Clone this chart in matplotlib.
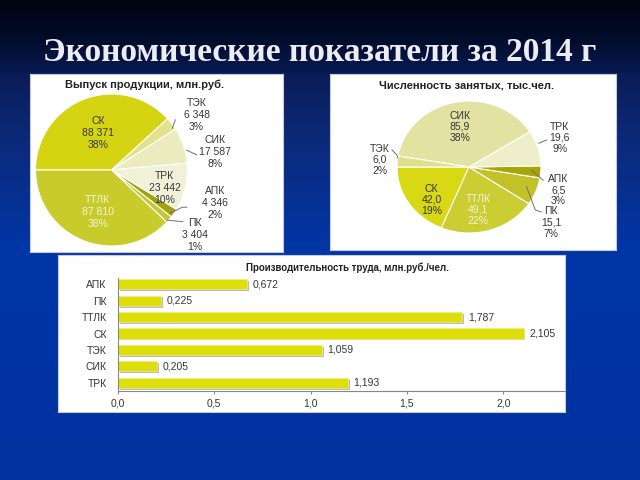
import numpy as np
import matplotlib
matplotlib.use("Agg")
import matplotlib.pyplot as plt
import matplotlib.patheffects as pe
from matplotlib.colors import LinearSegmentedColormap

plt.rcParams['font.family'] = ['Liberation Sans', 'DejaVu Sans']

# Выпуск продукции, млн.руб.
out_names = ['СК', 'ТЭК', 'СИК', 'ТРК', 'АПК', 'ПК', 'ТТЛК']
out_values = [88371, 6348, 17587, 23442, 4346, 3404, 87810]
out_pct = [38, 3, 8, 10, 2, 1, 38]

# Численность занятых, тыс.чел.
emp_names = ['СК', 'ТТЛК', 'ПК', 'АПК', 'ТРК', 'СИК', 'ТЭК']
emp_values = [42.0, 49.1, 15.1, 6.5, 19.6, 85.9, 6.0]
emp_pct = [19, 22, 7, 3, 9, 38, 2]

# Производительность труда, млн.руб./чел.
prod_names = ['АПК', 'ПК', 'ТТЛК', 'СК', 'ТЭК', 'СИК', 'ТРК']
prod_values = [0.672, 0.225, 1.787, 2.105, 1.059, 0.205, 1.193]

W, H = 640, 480
fig = plt.figure(figsize=(6.4, 4.8), dpi=100)


def px_axes(x0, y0, x1, y1, **kw):
    # axes box given in pixels from top-left corner
    return fig.add_axes([x0 / W, 1 - y1 / H, (x1 - x0) / W, (y1 - y0) / H], **kw)


# background gradient
bg = px_axes(0, 0, W, H)
cmap = LinearSegmentedColormap.from_list('slide', [
    (0.0, '#000410'), (0.08, '#020c2c'), (0.16, '#0a1d58'),
    (0.3, '#0c2a7c'), (0.52, '#0036a6'), (1.0, '#0032a0')])
bg.imshow(np.linspace(0, 1, 480)[:, None], aspect='auto', cmap=cmap, extent=[0, 1, 0, 1])
bg.axis('off')

fig.text(0.5, 1 - 61 / H, 'Экономические показатели за 2014 г', family='Liberation Serif',
         fontweight='bold', fontsize=24, color='#ececf2', ha='center', va='baseline')

# white panels
for box in [(30, 74, 283, 252), (330, 74, 616, 250), (58, 255, 565, 412)]:
    p = px_axes(*box)
    p.set_xticks([])
    p.set_yticks([])
    for s in p.spines.values():
        s.set_color('#c8c8d4')
        s.set_linewidth(0.8)

txt = '#363636'
wedge_kw = dict(edgecolor='white', linewidth=0.8)

# ---- pie 1
ax1 = px_axes(35.5, 94, 187.5, 246)
out_colors = ['#d4d412', '#e2e28e', '#ebebbf', '#f1f1da', '#a2a20e', '#c6c63a', '#c8cb2a']
ax1.pie(out_values, colors=out_colors, startangle=180, counterclock=False, wedgeprops=wedge_kw)
ax1.set_aspect('auto')
ax1.set_xlim(-1, 1)
ax1.set_ylim(-1, 1)
out_pos = [(-0.18, 0.49), (1.12, 0.72), (1.36, 0.24), (0.70, -0.24),
           (1.36, -0.43), (1.10, -0.86), (-0.18, -0.55)]
for name, v, pc, (x, y) in zip(out_names, out_values, out_pct, out_pos):
    c = '#f4f4dc' if name == 'ТТЛК' else txt
    ax1.text(x, y, f'{name}\n{v:,}\n{pc}%'.replace(',', ' '), ha='center', va='center',
             fontsize=7.5, color=c, linespacing=1.25, clip_on=False)
for xs, ys in [([0.80, 0.84], [0.55, 0.66]), ([0.99, 1.12], [0.26, 0.20]),
               ([0.77, 0.93, 0.99], [-0.57, -0.49, -0.49]), ([0.73, 0.94], [-0.66, -0.68])]:
    ax1.plot(xs, ys, color='#707070', lw=0.7, clip_on=False)
fig.text(145 / W, 1 - 85 / H, 'Выпуск продукции, млн.руб.', ha='center', va='center',
         fontsize=8, fontweight='bold', color='#222222')

# ---- pie 2
ax2 = px_axes(397, 101, 541, 233)
emp_colors = ['#d8d814', '#cccc33', '#c2c228', '#a6a606', '#eeeecb', '#e2e2a2', '#e0e08c']
ax2.pie(emp_values, colors=emp_colors, startangle=180, counterclock=True, wedgeprops=wedge_kw)
ax2.set_aspect('auto')
ax2.set_xlim(-1, 1)
ax2.set_ylim(-1, 1)
emp_pos = [(-0.52, -0.5), (0.125, -0.65), (1.14, -0.84), (1.24, -0.35),
           (1.26, 0.44), (-0.125, 0.61), (-1.24, 0.11)]
for name, v, pc, (x, y) in zip(emp_names, emp_values, emp_pct, emp_pos):
    c = '#f4f4dc' if name == 'ТТЛК' else txt
    ax2.text(x, y, f'{name}\n{v:.1f}\n{pc}%'.replace('.', ','), ha='center', va='center',
             fontsize=7.5, color=c, linespacing=1.15, clip_on=False)
for xs, ys in [([-1.07, -1.0, -0.99], [0.26, 0.18, 0.14]), ([0.97, 1.08], [0.36, 0.41]),
               ([0.87, 1.03], [-0.05, -0.2]), ([0.80, 0.92, 1.0], [-0.30, -0.65, -0.68])]:
    ax2.plot(xs, ys, color='#707070', lw=0.7, clip_on=False)
fig.text(466.7 / W, 1 - 85 / H, 'Численность занятых, тыс.чел.', ha='center', va='center',
         fontsize=8, fontweight='bold', color='#222222')

# ---- bars
ax3 = px_axes(117.7, 278, 565, 391)
ax3.patch.set_alpha(0)
ypos = np.arange(len(prod_names))[::-1]
ax3.barh(ypos, prod_values, height=0.62, color='#dede08', edgecolor='#eeee90', linewidth=0.5,
         path_effects=[pe.withSimplePatchShadow(offset=(1.3, -1.3), shadow_rgbFace='#8c8c8c', alpha=0.6)])
for y, v in zip(ypos, prod_values):
    ax3.text(v + 0.03, y, f'{v:.3f}'.replace('.', ','), va='center', fontsize=7.5, color=txt)
ax3.set_xlim(0, 2.32)
ax3.set_ylim(-0.5, 6.38)
ax3.set_yticks(ypos)
ax3.set_yticklabels(prod_names)
ticks = [0, 0.5, 1.0, 1.5, 2.0]
ax3.set_xticks(ticks)
ax3.set_xticklabels([f'{t:.1f}'.replace('.', ',') for t in ticks])
ax3.tick_params(axis='both', labelsize=7.5, labelcolor=txt, length=2, color='#888888')
ax3.tick_params(axis='y', length=0, pad=8)
for s in ['top', 'right']:
    ax3.spines[s].set_visible(False)
for s in ['left', 'bottom']:
    ax3.spines[s].set_color('#888888')
    ax3.spines[s].set_linewidth(0.8)
fig.text(348 / W, 1 - 268 / H, 'Производительность труда, млн.руб./чел.', ha='center', va='center',
         fontsize=7, fontweight='bold', color='#222222')

fig.savefig('out.png', dpi=100)
